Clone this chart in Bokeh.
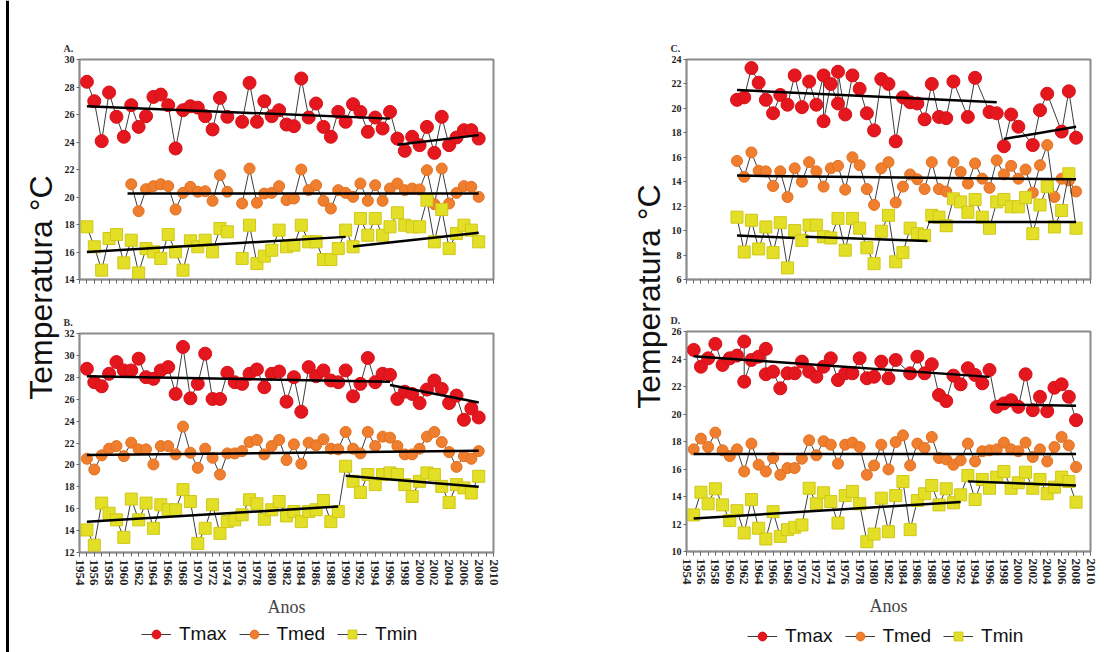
import math
from bokeh.plotting import figure
from bokeh.layouts import row, column
from bokeh.models import (Range1d, Label, Legend, LegendItem, SingleIntervalTicker,
                          CustomJSTickFormatter, ColumnDataSource, Span)
from bokeh.embed import file_html
from bokeh.resources import INLINE

NaN = float("nan")
SERIF = "Liberation Serif"
SANS = "Liberation Sans"
RED = "#e3171d"
ORANGE = "#ef7e2e"
YELLOW = "#e3df26"

# ---------------- Panel A ----------------
anos_a = list(range(1955, 2009))
tmax_a = [28.38, 26.97, 24.06, 27.6, 25.83, 24.38, 26.68, 25.1, 25.88, 27.28,
          27.45, 26.68, 23.53, 26.31, 26.6, 26.5, 25.88, 24.91, 27.21, 25.83,
          NaN, 25.47, 28.3, 25.47, 26.97, 25.88, 26.31, 25.27, 25.15, 28.62,
          25.78, 26.8, 25.1, 24.38, 26.19, 25.47, 26.75, 26.19, 24.74, 25.78,
          24.98, 26.19, 24.25, 23.36, 24.38, 23.77, 25.1, 23.21, 25.83, 23.77,
          24.33, 24.86, 24.86, 24.25]
anos_tmed_a = list(range(1961, 2009))
tmed_a = [20.93, 18.97, 20.57, 20.79, 20.93, 20.79, 19.09, 20.3, 20.74, 20.38,
          20.42, 19.72, 21.59, 20.38, NaN, 19.53, 22.07, 19.58, 20.25, 20.3,
          20.79, 19.77, 19.89, 22.0, 20.5, 20.86, 19.72, 19.16, 20.5, 20.3,
          20.01, 20.98, 19.72, 20.86, 19.72, 20.62, 20.98, 20.5, 20.62, 20.55,
          21.95, 19.48, 22.07, 19.53, 20.3, 20.79, 20.74, 20.01]
tmin_a = [17.83, 16.38, 14.68, 16.98, 17.27, 15.21, 16.86, 14.48, 16.25, 16.01,
          15.53, 17.27, 16.01, 14.68, 16.81, 16.38, 16.86, 16.01, 17.71, 17.47,
          NaN, 15.53, 17.95, 15.16, 15.7, 16.13, 17.59, 16.38, 16.5, 17.95,
          16.74, 16.74, 15.45, 15.45, 16.25, 17.59, 16.38, 18.44, 17.22, 18.44,
          17.22, 17.83, 18.85, 17.95, 17.83, 17.83, 19.77, 16.74, 19.09, 16.25,
          17.35, 17.95, 17.59, 16.74]
tend_a = {"x0": [1955, 1997, 1960.5, 1955, 1991],
          "y0": [26.6, 23.8, 20.25, 16.0, 16.4],
          "x1": [1996, 2008, 2008, 1990, 2008],
          "y1": [25.7, 24.5, 20.25, 17.1, 17.4]}

# ---------------- Panel B ----------------
anos_b = list(range(1955, 2009))
tmax_b = [28.78, 27.55, 27.18, 28.32, 29.39, 28.63, 28.63, 29.7, 28.01, 27.86,
          28.63, 28.93, 26.48, 30.77, 26.08, 27.4, 30.16, 26.02, 26.02, 28.41,
          27.55, 27.4, 28.32, 28.72, 27.09, 28.32, 28.53, 25.77, 28.01, 24.85,
          28.93, 28.1, 28.63, 27.71, 27.55, 28.63, 26.26, 27.4, 29.76, 27.55,
          28.32, 28.23, 26.02, 26.69, 26.48, 25.65, 26.88, 27.71, 26.94, 25.65,
          26.33, 24.12, 25.16, 24.33]
tmed_b = [20.56, 19.58, 20.87, 21.48, 21.72, 20.8, 22.03, 21.42, 21.42, 20.04,
          21.72, 21.72, 20.96, 23.5, 21.11, 19.73, 21.48, 20.65, 19.12, 21.05,
          21.05, 21.26, 22.09, 22.28, 20.96, 21.72, 22.28, 20.44, 21.88, 20.1,
          22.03, 21.79, 22.34, 21.48, 21.42, 23.01, 21.48, 21.05, 23.01, 21.72,
          22.58, 22.49, 21.72, 20.96, 20.96, 21.48, 22.58, 23.01, 22.09, 21.17,
          19.82, 20.8, 20.56, 21.26]
tmin_b = [14.06, 12.67, 16.51, 15.59, 14.98, 13.38, 16.88, 14.98, 16.51, 14.21,
          16.36, 15.9, 15.9, 17.74, 16.66, 12.83, 14.21, 16.36, 13.75, 14.82,
          14.98, 15.44, 16.82, 16.45, 15.04, 15.9, 16.66, 15.34, 15.74, 14.82,
          15.74, 15.9, 16.75, 14.82, 15.74, 19.88, 18.5, 17.49, 19.12, 18.2,
          19.12, 19.27, 19.12, 18.2, 17.12, 18.5, 19.27, 19.12, 18.04, 16.57,
          18.2, 17.9, 17.43, 18.96]
tend_b = {"x0": [1955, 1996, 1955, 1955, 1990],
          "y0": [28.1, 27.3, 20.9, 14.8, 19.0],
          "x1": [1996, 2008, 2008, 1989, 2008],
          "y1": [27.6, 25.7, 21.3, 16.2, 18.0]}

# ---------------- Panel C ----------------
anos_tmax_c = [1961, 1962, 1963, 1964, 1965, 1966, 1967, 1968, 1969, 1970,
               1971, 1972, 1973, 1973, 1974, 1975, 1975, 1976, 1977, 1978,
               1979, 1980, 1981, 1982, 1983, 1984, 1985, 1986, 1987, 1988,
               1989, 1990, 1991, 1993, 1994, 1996, 1997, 1998, 1999, 2000,
               2002, 2003, 2004, 2006, 2007, 2008]
tmax_c = [20.7, 20.9, 23.3, 22.1, 20.7, 19.6, 21.1, 20.3, 22.7, 20.1,
          22.2, 20.3, 22.7, 18.95, 22.0, 20.4, 23.0, 19.5, 22.7, 21.6,
          19.6, 18.2, 22.4, 22.0, 17.3, 20.9, 20.5, 20.4, 19.1, 22.0,
          19.3, 19.2, 22.2, 19.3, 22.5, 19.7, 19.6, 16.9, 19.5, 18.5,
          17.0, 19.85, 21.2, 18.1, 21.4, 17.6]
anos_c = list(range(1961, 2009))
tmed_c = [15.7, 14.4, 16.4, 14.9, 14.85, 13.65, 14.85, 12.75, 15.1, 14.0,
          15.6, 14.85, 13.6, 15.1, 15.3, 13.35, 16.0, 15.35, 13.4, 12.1,
          15.1, 15.6, 12.3, 13.6, 14.6, 14.2, 13.4, 15.6, 13.4, 13.2,
          15.6, 14.8, 13.85, 15.5, 14.25, 13.5, 15.75, 14.6, 15.3, 14.25,
          15.0, 13.1, 15.35, 17.0, 12.75, 14.25, 14.1, 13.2]
tmin_c = [11.1, 8.25, 10.85, 8.5, 10.3, 8.2, 10.65, 6.95, 10.0, 9.2,
          10.45, 10.45, 9.5, 9.4, 11.0, 8.4, 11.0, 10.2, 8.6, 7.3,
          9.95, 11.25, 7.45, 8.2, 10.2, 9.75, 9.6, 11.25, 11.1, 10.4,
          12.6, 12.35, 11.5, 12.55, 11.1, 10.2, 12.35, 12.55, 11.95, 11.95,
          12.7, 9.75, 12.1, 13.6, 10.3, 11.65, 14.65, 10.2]
tend_c = {"x0": [1961, 1998, 1961, 1961, 1970.5, 1987.5],
          "y0": [21.5, 17.5, 14.5, 9.6, 9.5, 10.7],
          "x1": [1997, 2008, 2008, 1969, 1987.4, 2008],
          "y1": [20.5, 18.5, 14.2, 9.4, 9.15, 10.7]}

# ---------------- Panel D ----------------
anos_tmax_d = [1955, 1956, 1957, 1958, 1959, 1960, 1961, 1962, 1962, 1963,
               1964, 1965, 1965, 1966, 1967, 1968, 1969, 1970, 1971, 1972,
               1973, 1974, 1975, 1976, 1977, 1978, 1979, 1980, 1981, 1982,
               1983, 1985, 1986, 1987, 1988, 1989, 1990, 1991, 1992, 1993,
               1994, 1995, 1996, 1997, 1998, 1999, 2000, 2001, 2002, 2003,
               2004, 2005, 2006, 2007, 2008]
tmax_d = [24.66, 23.44, 24.05, 25.1, 23.57, 24.05, 24.25, 25.27, 22.35, 23.93,
          24.17, 24.74, 22.89, 23.08, 21.87, 22.96, 22.96, 23.81, 23.08, 22.71,
          23.44, 24.05, 22.47, 22.96, 22.96, 24.05, 22.6, 22.71, 23.81, 22.6,
          23.93, 22.96, 24.17, 22.96, 23.62, 21.38, 20.94, 22.79, 22.16, 23.33,
          22.84, 22.23, 23.2, 20.52, 20.77, 21.0, 20.52, 22.89, 20.28, 21.25,
          20.2, 21.91, 22.16, 21.25, 19.55]
anos_d = list(range(1955, 2009))
tmed_d = [17.43, 18.21, 17.6, 18.65, 17.36, 16.94, 17.43, 15.82, 17.85, 16.31,
          15.82, 16.8, 15.58, 16.07, 16.07, 16.75, 18.09, 17.0, 18.02, 17.77,
          16.39, 17.77, 17.92, 17.6, 15.58, 16.26, 17.77, 15.97, 17.96, 18.45,
          16.26, 17.85, 17.53, 18.33, 16.8, 16.7, 16.31, 16.63, 17.85, 16.55,
          17.29, 17.36, 17.43, 17.92, 17.43, 17.29, 17.92, 16.87, 17.43, 16.55,
          17.6, 18.33, 17.72, 16.14]
tmin_d = [12.66, 14.31, 13.47, 14.56, 13.39, 12.25, 12.97, 11.35, 13.78, 11.69,
          10.91, 12.9, 11.1, 11.59, 11.76, 11.93, 14.6, 13.47, 14.27, 13.63,
          12.07, 14.07, 14.37, 13.47, 10.71, 11.27, 13.88, 11.44, 14.07, 15.09,
          11.59, 13.71, 14.2, 14.8, 13.39, 14.56, 13.54, 14.12, 15.53, 13.78,
          15.24, 14.6, 15.41, 15.82, 14.6, 15.0, 15.77, 14.6, 15.24, 14.2,
          14.68, 15.41, 15.09, 13.59]
tend_d = {"x0": [1955, 1997, 1955, 1955, 1993],
          "y0": [24.2, 20.7, 17.1, 12.4, 15.1],
          "x1": [1996, 2008, 2008, 1992, 2008],
          "y1": [22.7, 20.6, 17.1, 13.6, 14.8]}

series_names = ["Tmax", "Tmed", "Tmin"]
anos_eixo = (1954, 2010)

COLORS = [RED, ORANGE, YELLOW]
OUTLINES = ["#d81018", "#e2701f", "#cfc718"]
MARKERS = ["circle", "circle", "square"]
SIZES = [13, 11, 12]
LINK = "#3c3c3c"


def panel(width, height, borders, ylim, letter, labels_x, series, tend):
    left, right, top, bottom = borders
    p = figure(width=width, height=height, x_range=Range1d(*anos_eixo),
               y_range=Range1d(*ylim), output_backend="svg", toolbar_location=None,
               min_border_left=left, min_border_right=right,
               min_border_top=top, min_border_bottom=bottom)
    p.grid.visible = False
    p.outline_line_color = "#8c8c8c"
    p.outline_line_width = 2
    p.title.text = letter
    p.title.align = "left"
    p.title.offset = -16
    p.title.standoff = 12
    p.title.text_font = SERIF
    p.title.text_font_style = "bold"
    p.title.text_font_size = "10px"
    p.title.text_color = "#333333"
    xa = p.xaxis[0]
    ya = p.yaxis[0]
    xa.ticker = SingleIntervalTicker(interval=2, num_minor_ticks=2)
    ya.ticker = SingleIntervalTicker(interval=2, num_minor_ticks=0)
    for ax in (xa, ya):
        ax.axis_line_color = "#8c8c8c"
        ax.axis_line_width = 1.5
        ax.major_tick_line_color = "#6a6a6a"
        ax.minor_tick_line_color = "#6a6a6a"
        ax.major_tick_in = 0
        ax.minor_tick_in = 0
        ax.major_label_text_font = SERIF
        ax.major_label_text_font_style = "bold"
        ax.major_label_text_color = "#222222"
    xa.major_tick_out = 4
    xa.minor_tick_out = 4
    ya.major_tick_out = 3
    ya.minor_tick_out = 0
    ya.major_label_text_font_size = "10px"
    ya.major_label_standoff = 2
    if labels_x:
        xa.major_label_orientation = "vertical"
        xa.major_label_text_font_size = "13px"
        xa.major_label_standoff = 3
        xa.axis_label = "Anos"
        xa.axis_label_text_font = SERIF
        xa.axis_label_text_font_style = "normal"
        xa.axis_label_text_font_size = "18px"
        xa.axis_label_text_color = "#444444"
        xa.axis_label_standoff = 8
    else:
        xa.formatter = CustomJSTickFormatter(code="return ''")
        xa.major_label_text_font_size = "6px"
        xa.major_label_standoff = 0

    for i, (xs, ys) in enumerate(series):
        src = ColumnDataSource(dict(x=xs, y=ys))
        p.line("x", "y", source=src, line_color=LINK, line_width=1)
        p.scatter("x", "y", source=src, marker=MARKERS[i], size=SIZES[i],
                  fill_color=COLORS[i], line_color=OUTLINES[i], line_width=1)
    p.segment(x0="x0", y0="y0", x1="x1", y1="y1", source=ColumnDataSource(tend),
              line_color="black", line_width=2.5)
    return p


def legend_fig(width, height, xy, series):
    # the series are drawn again here, far outside this strip's own ranges,
    # only so that the legend has glyphs to show
    f = figure(width=width, height=height, x_range=Range1d(0, 1), y_range=Range1d(0, 1),
               output_backend="svg", toolbar_location=None,
               x_axis_location=None, y_axis_location=None, min_border=0)
    f.grid.visible = False
    f.outline_line_color = None
    items = []
    for i, (xs, ys) in enumerate(series):
        src = ColumnDataSource(dict(x=xs, y=ys))
        lr = f.line("x", "y", source=src, line_color=LINK, line_width=1)
        sr = f.scatter("x", "y", source=src, marker=MARKERS[i], size=SIZES[i] + 3,
                       fill_color=COLORS[i], line_color=OUTLINES[i], line_width=1)
        items.append(LegendItem(label=series_names[i], renderers=[lr, sr]))
    lg = Legend(items=items, orientation="horizontal", location=xy,
                glyph_width=30, glyph_height=22, label_text_font=SANS,
                label_text_font_size="19px", label_standoff=8, spacing=12,
                padding=0, margin=0, border_line_color=None,
                background_fill_alpha=0, label_text_color="#111111")
    f.add_layout(lg, "center")
    return f


def strip(width, cx, cy, border=False):
    s = figure(width=width, height=652, x_range=Range1d(0, width), y_range=Range1d(0, 652),
               output_backend="svg", toolbar_location=None,
               x_axis_location=None, y_axis_location=None, min_border=0)
    s.grid.visible = False
    s.outline_line_color = None
    s.add_layout(Label(x=cx, y=652 - cy, text="Temperatura °C", angle=math.pi / 2,
                       text_align="center", text_baseline="middle", text_font=SANS,
                       text_font_size="32px", text_color="#111111"))
    if border:
        s.add_layout(Span(location=7, dimension="height", line_color="black", line_width=3))
    return s


series_b = [(anos_b, tmax_b), (anos_b, tmed_b), (anos_b, tmin_b)]
series_d = [(anos_tmax_d, tmax_d), (anos_d, tmed_d), (anos_d, tmin_d)]

pA = panel(540, 300, (17, 107, 59, 21), (14, 30), "A.", False,
           [(anos_a, tmax_a), (anos_tmed_a, tmed_a), (anos_a, tmin_a)], tend_a)
pB = panel(540, 320, (19, 107, 33, 68), (12, 32), "B.", True, series_b, tend_b)
lB = legend_fig(540, 32, (62, 7), series_b)
pC = panel(447, 300, (15, 25, 59, 21), (6, 24), "C.", False,
           [(anos_tmax_c, tmax_c), (anos_c, tmed_c), (anos_c, tmin_c)], tend_c)
pD = panel(447, 319, (16, 25, 31, 68), (10, 26), "D.", True, series_d, tend_d)
lD = legend_fig(447, 33, (61, 5), series_d)

sL = strip(60, 40, 287, border=True)
sM = strip(68, 48, 296)

layout = row(sL, column(pA, pB, lB), sM, column(pC, pD, lD))
open("out.html", "w").write(file_html(layout, INLINE))
